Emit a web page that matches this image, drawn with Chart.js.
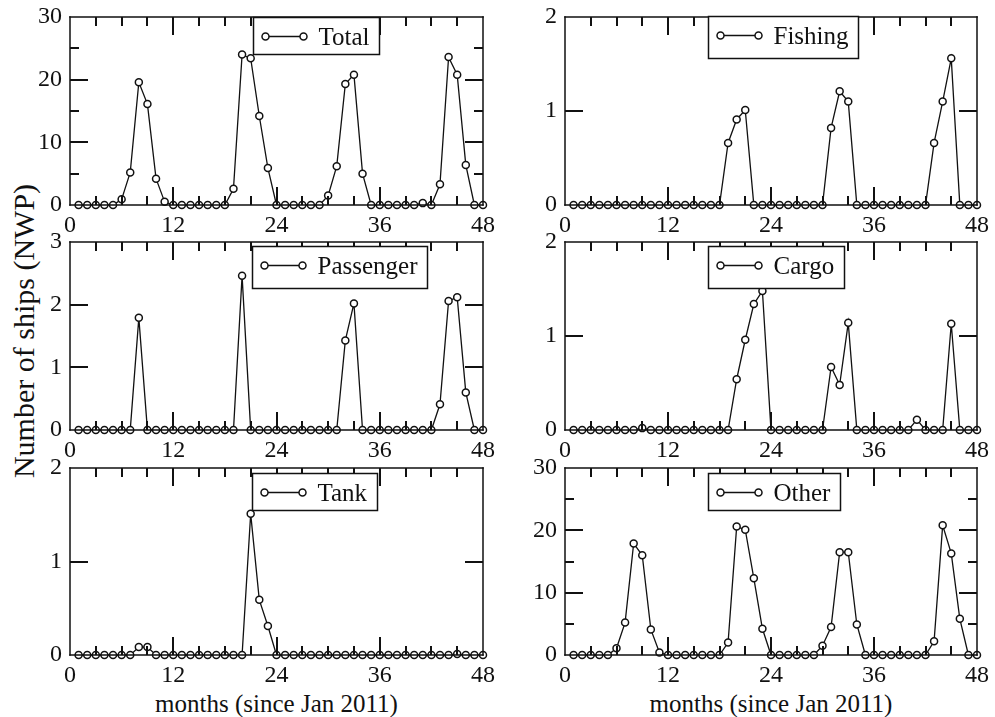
<!DOCTYPE html>
<html>
<head>
<meta charset="utf-8">
<title>Number of ships (NWP)</title>
<script src="https://cdn.jsdelivr.net/npm/chart.js@4.4.1/dist/chart.umd.min.js"></script>
<style>
  html, body { margin: 0; padding: 0; background: #fff; }
  #page {
    position: relative; width: 995px; height: 717px; overflow: hidden;
    font-family: "Liberation Serif", "Times New Roman", serif; color: #111;
  }
  #page canvas { position: absolute; }
  .ytitle {
    position: absolute; left: 24px; top: 331px;
    font-size: 30px; line-height: 30px; white-space: nowrap;
    transform: translate(-50%, -50%) rotate(-90deg);
  }
  .xtitle {
    position: absolute; top: 691px;
    font-size: 25px; line-height: 25px; white-space: nowrap;
    transform: translateX(-50%);
  }
</style>
</head>
<body>
<div id="page">
  <div class="ytitle">Number of ships (NWP)</div>
  <div class="xtitle" style="left:276.5px">months (since Jan 2011)</div>
  <div class="xtitle" style="left:771px">months (since Jan 2011)</div>
</div>
<script>
// Months since January 2011
const months = [1, 2, 3, 4, 5, 6, 7, 8, 9, 10, 11, 12,
                13, 14, 15, 16, 17, 18, 19, 20, 21, 22, 23, 24,
                25, 26, 27, 28, 29, 30, 31, 32, 33, 34, 35, 36,
                37, 38, 39, 40, 41, 42, 43, 44, 45, 46, 47, 48];

// Monthly number of ships per category
const total = [0, 0, 0, 0, 0, 0.9, 5.2, 19.6, 16.1, 4.2, 0.5, 0,
               0, 0, 0, 0, 0, 0, 2.6, 24.0, 23.4, 14.2, 5.9, 0,
               0, 0, 0, 0, 0, 1.5, 6.2, 19.3, 20.8, 5.0, 0, 0,
               0, 0, 0, 0, 0.3, 0, 3.3, 23.6, 20.8, 6.4, 0, 0];
const fishing = [0, 0, 0, 0, 0, 0, 0, 0, 0, 0, 0, 0,
                 0, 0, 0, 0, 0, 0, 0.66, 0.91, 1.01, 0, 0, 0,
                 0, 0, 0, 0, 0, 0, 0.82, 1.21, 1.10, 0, 0, 0,
                 0, 0, 0, 0, 0, 0, 0.66, 1.10, 1.56, 0, 0, 0];
const passenger = [0, 0, 0, 0, 0, 0, 0, 1.79, 0, 0, 0, 0,
                   0, 0, 0, 0, 0, 0, 0, 2.46, 0, 0, 0, 0,
                   0, 0, 0, 0, 0, 0, 0, 1.43, 2.02, 0, 0, 0,
                   0, 0, 0, 0, 0, 0, 0.41, 2.06, 2.12, 0.60, 0, 0];
const cargo = [0, 0, 0, 0, 0, 0, 0, 0, 0.02, 0, 0, 0,
               0, 0, 0, 0, 0, 0, 0, 0.54, 0.96, 1.34, 1.48, 0,
               0, 0, 0, 0, 0, 0, 0.67, 0.48, 1.14, 0, 0, 0,
               0, 0, 0, 0, 0.11, 0, 0, 0, 1.13, 0, 0, 0];
const tank = [0, 0, 0, 0, 0, 0, 0, 0.085, 0.085, 0, 0, 0,
              0, 0, 0, 0, 0, 0, 0, 0, 1.51, 0.59, 0.31, 0,
              0, 0, 0, 0, 0, 0, 0, 0, 0, 0, 0, 0,
              0, 0, 0, 0, 0, 0, 0, 0, 0.01, 0, 0, 0];
const other = [0, 0, 0, 0, 0, 1.07, 5.2, 17.9, 16.0, 4.1, 0.4, 0,
               0, 0, 0, 0, 0, 0, 2.0, 20.6, 20.1, 12.3, 4.2, 0,
               0, 0, 0, 0, 0, 1.5, 4.5, 16.5, 16.5, 4.9, 0, 0,
               0, 0, 0, 0, 0, 0, 2.2, 20.8, 16.3, 5.8, 0, 0];

const seriesNames = ['Total', 'Fishing', 'Passenger', 'Cargo', 'Tank', 'Other'];
const seriesValues = [total, fishing, passenger, cargo, tank, other];

// Axis ranges: x tick labels, minor x tick positions, y maxima / tick steps per panel
const xTickLabels = [0, 12, 24, 36, 48];
const xMinorTicks = [3, 6, 9, 15, 18, 21, 27, 30, 33, 39, 42, 45];
const yMax = [30, 2, 3, 2, 2, 30];
const yStep = [10, 1, 1, 1, 1, 10];
const yMinorTicks = [[5, 15, 25], [], [], [], [], [5, 15, 25]];

// Panel placement on the page (plot-area boxes) and legend offsets
const layout = [
  { left: 70,  top: 17,  width: 413, height: 188, legendDx: 183, legendDy: 0 },
  { left: 565, top: 17,  width: 412, height: 188, legendDx: 143, legendDy: -1 },
  { left: 70,  top: 242, width: 413, height: 188, legendDx: 182, legendDy: 4 },
  { left: 565, top: 242, width: 412, height: 188, legendDx: 143, legendDy: 4 },
  { left: 70,  top: 468, width: 413, height: 187, legendDx: 182, legendDy: 5 },
  { left: 565, top: 468, width: 412, height: 187, legendDx: 143, legendDy: 5 }
];

const PAD_LEFT = 70, PAD_TOP = 16, PAD_RIGHT = 20, PAD_BOTTOM = 40;
const INK = '#111';
const SERIF = '"Liberation Serif", "Times New Roman", serif';
const MAJOR_LEN = 18, MINOR_LEN = 9, TICK_W = 2;

Chart.defaults.font.family = SERIF;
Chart.defaults.color = INK;

// Box frame with inward major/minor ticks on all four sides
function makeFrameTicks(yMajorList, yMinorList) {
  return {
    id: 'frameTicks',
    afterDraw(chart) {
      const ctx = chart.ctx, a = chart.chartArea;
      const xs = chart.scales.x, ys = chart.scales.y;
      ctx.save();
      ctx.fillStyle = INK;
      const w = a.right - a.left, h = a.bottom - a.top;
      ctx.fillRect(a.left - 0.75, a.top - 0.75, w + 1.5, 1.5);
      ctx.fillRect(a.left - 0.75, a.bottom - 0.75, w + 1.5, 1.5);
      ctx.fillRect(a.left - 0.75, a.top - 0.75, 1.5, h + 1.5);
      ctx.fillRect(a.right - 0.75, a.top - 0.75, 1.5, h + 1.5);
      const xTick = (v, len) => {
        const px = Math.round(xs.getPixelForValue(v)) - TICK_W / 2;
        ctx.fillRect(px, Math.round(a.bottom - len), TICK_W, len);
        ctx.fillRect(px, Math.round(a.top), TICK_W, len);
      };
      const yTick = (v, len) => {
        const py = Math.round(ys.getPixelForValue(v)) - TICK_W / 2;
        ctx.fillRect(Math.round(a.left), py, len, TICK_W);
        ctx.fillRect(Math.round(a.right - len), py, len, TICK_W);
      };
      xTickLabels.slice(1, -1).forEach(v => xTick(v, MAJOR_LEN));
      xMinorTicks.forEach(v => xTick(v, MINOR_LEN));
      yMajorList.forEach(v => yTick(v, MAJOR_LEN));
      yMinorList.forEach(v => yTick(v, MINOR_LEN));
      ctx.restore();
    }
  };
}

// Boxed legend sample: line with two open circles, then the series name
function makeBoxLegend(dx, dy) {
  return {
    id: 'boxLegend',
    afterDraw(chart) {
      const ctx = chart.ctx, a = chart.chartArea;
      const label = chart.data.datasets[0].label;
      ctx.save();
      ctx.font = '25px ' + SERIF;
      const m = ctx.measureText(label);
      const asc = m.actualBoundingBoxAscent, desc = m.actualBoundingBoxDescent;
      const pad = 10;
      const x0 = Math.round(a.left + dx) + 0.5, y0 = Math.round(a.top + dy) + 0.5;
      const w = Math.round(65 + m.width + 10), h = Math.round(pad * 2 + asc + desc);
      ctx.fillStyle = '#fff';
      ctx.fillRect(x0, y0, w, h);
      ctx.strokeStyle = INK;
      ctx.lineWidth = 1.5;
      ctx.strokeRect(x0, y0, w, h);
      const base = y0 + pad + asc;
      ctx.fillStyle = INK;
      ctx.textBaseline = 'alphabetic';
      ctx.textAlign = 'left';
      ctx.fillText(label, x0 + 65, base);
      const ly = Math.round(base - 8.5) + 0.5;
      ctx.beginPath();
      ctx.moveTo(x0 + 12, ly); ctx.lineTo(x0 + 50, ly);
      ctx.lineWidth = 1.3;
      ctx.stroke();
      for (const mx of [x0 + 12, x0 + 50]) {
        ctx.beginPath();
        ctx.arc(mx, ly, 3.5, 0, Math.PI * 2);
        ctx.fillStyle = '#fff';
        ctx.fill();
        ctx.lineWidth = 1.5;
        ctx.stroke();
      }
      ctx.restore();
    }
  };
}

const page = document.getElementById('page');

seriesNames.forEach((name, i) => {
  const L = layout[i];
  const cv = document.createElement('canvas');
  const cw = L.width + PAD_LEFT + PAD_RIGHT;
  const ch = L.height + PAD_TOP + PAD_BOTTOM;
  cv.width = cw; cv.height = ch;
  cv.style.width = cw + 'px'; cv.style.height = ch + 'px';
  cv.style.left = (L.left - PAD_LEFT) + 'px';
  cv.style.top = (L.top - PAD_TOP) + 'px';
  page.appendChild(cv);

  const values = seriesValues[i];
  const yMajorList = [];
  for (let v = yStep[i]; v < yMax[i]; v += yStep[i]) yMajorList.push(v);

  new Chart(cv, {
    type: 'line',
    data: {
      datasets: [{
        label: name,
        data: months.map((m, k) => ({ x: m, y: values[k] })),
        borderColor: INK, borderWidth: 1.3, pointRadius: 3.5, pointBorderWidth: 1.5,
        pointBackgroundColor: '#fff', pointBorderColor: INK, tension: 0, clip: false
      }]
    },
    options: {
      responsive: false, animation: false, devicePixelRatio: 1,
      layout: { autoPadding: false, padding: { left: 0, top: PAD_TOP, right: PAD_RIGHT, bottom: 0 } },
      events: [],
      plugins: { legend: { display: false }, tooltip: { enabled: false } },
      scales: {
        x: {
          type: 'linear', min: xTickLabels[0], max: xTickLabels[xTickLabels.length - 1],
          afterFit: s => { s.height = PAD_BOTTOM; s.paddingLeft = 0; s.paddingRight = 0; },
          afterBuildTicks: s => { s.ticks = xTickLabels.map(v => ({ value: v })); },
          grid: { display: false, drawTicks: false, tickLength: 0 },
          border: { display: false },
          ticks: { font: { size: 24 }, color: INK, padding: 6, maxRotation: 0, autoSkip: false }
        },
        y: {
          type: 'linear', min: 0, max: yMax[i],
          afterFit: s => { s.width = PAD_LEFT; s.paddingTop = 0; s.paddingBottom = 0; },
          grid: { display: false, drawTicks: false, tickLength: 0 },
          border: { display: false },
          ticks: { stepSize: yStep[i], font: { size: 24 }, color: INK, padding: 8 }
        }
      }
    },
    plugins: [makeFrameTicks(yMajorList, yMinorTicks[i]), makeBoxLegend(L.legendDx, L.legendDy)]
  });
});
</script>
</body>
</html>
